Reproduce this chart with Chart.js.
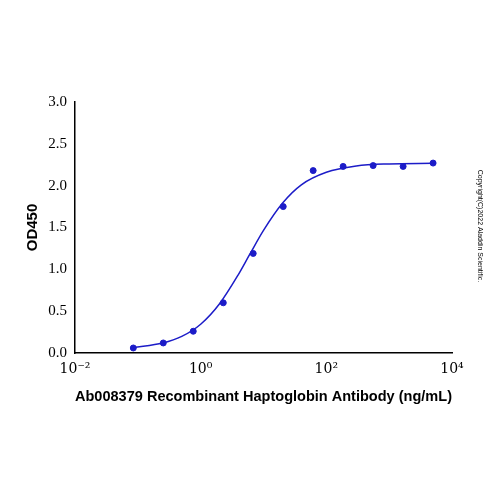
<!DOCTYPE html>
<html>
<head>
<script src="https://cdn.jsdelivr.net/npm/chart.js"></script>
<style>body{margin:0;background:#fff}</style>
</head>
<body>
<canvas id="c" width="500" height="500"></canvas>
<script>
// measured points (ng/mL, OD450)
const conc = [0.0847, 0.254, 0.762, 2.29, 6.86, 20.6, 61.7, 185, 556, 1667, 5000];
const od = [0.06, 0.12, 0.26, 0.60, 1.19, 1.75, 2.18, 2.23, 2.24, 2.23, 2.27];
// fitted curve
const curveX = [0.085, 0.25, 0.5, 1, 2, 4, 6, 10, 20, 40, 100, 300, 1000, 5000];
const curveY = [0.066, 0.119, 0.198, 0.344, 0.589, 0.94, 1.175, 1.466, 1.79, 2.01, 2.16, 2.235, 2.26, 2.268];
const xTickLabels = {0.01: '10⁻²', 1: '10⁰', 100: '10²', 10000: '10⁴'};
const blue = '#1c1cc8';

new Chart(document.getElementById('c'), {
  type: 'scatter',
  data: {
    datasets: [
      {data: curveX.map((x, i) => ({x, y: curveY[i]})), showLine: true, borderColor: blue, borderWidth: 1.5, pointRadius: 0, cubicInterpolationMode: 'monotone'},
      {data: conc.map((x, i) => ({x, y: od[i]})), backgroundColor: blue, borderColor: blue, pointRadius: 3}
    ]
  },
  options: {
    responsive: false, animation: false,
    layout: {padding: {top: 102, right: 48, left: 20, bottom: 90}},
    plugins: {legend: {display: false}, tooltip: {enabled: false}},
    scales: {
      x: {
        type: 'logarithmic', min: 0.01, max: 10000,
        grid: {display: false, drawTicks: true, tickLength: 5, color: '#000'},
        border: {color: '#000', width: 1.5},
        afterBuildTicks: a => { a.ticks = [0.01, 0.1, 1, 10, 100, 1000, 10000].map(v => ({value: v})); },
        afterFit: a => { a.height = 57; },
        ticks: {autoSkip: false, maxRotation: 0, color: '#000', font: {family: 'DejaVu Serif', size: 14},
          callback: v => xTickLabels[v] || ''},
        title: {display: true, text: 'Ab008379 Recombinant Haptoglobin Antibody (ng/mL)', color: '#000',
          font: {family: 'Liberation Sans', size: 15, weight: 'bold'}, padding: {top: 14}}
      },
      y: {
        min: 0, max: 3,
        grid: {display: false, drawTicks: true, tickLength: 5, color: '#000'},
        border: {color: '#000', width: 1.5},
        afterFit: a => { a.width = 55; },
        ticks: {stepSize: 0.5, color: '#000', font: {family: 'Liberation Serif', size: 15}, callback: v => v.toFixed(1)},
        title: {display: true, text: 'OD450', color: '#000', font: {family: 'Liberation Sans', size: 15, weight: 'bold'}, padding: {bottom: 4}}
      }
    }
  },
  plugins: [{
    id: 'copy',
    afterDraw: ch => {
      const c = ch.ctx;
      c.save();
      c.translate(478, 226);
      c.rotate(Math.PI / 2);
      c.fillStyle = '#000';
      c.font = '7px Liberation Sans';
      c.textAlign = 'center';
      c.fillText('Copyright(C)2022 Aladdin Scientific.', 0, 0);
      c.restore();
    }
  }]
});
</script>
</body>
</html>
